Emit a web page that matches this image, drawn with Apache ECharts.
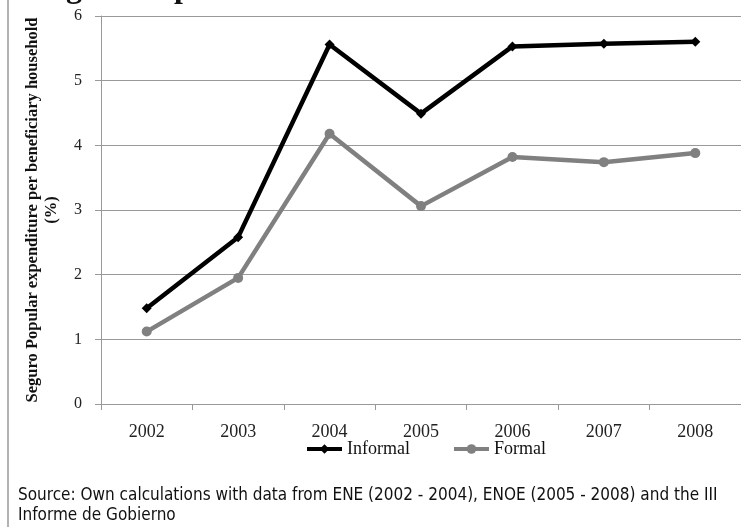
<!DOCTYPE html>
<html>
<head>
<meta charset="utf-8">
<script src="https://cdn.jsdelivr.net/npm/echarts@6/dist/echarts.min.js"></script>
<style>
  html, body { margin: 0; padding: 0; background: #fff; }
  #chart { width: 741px; height: 527px; }
</style>
</head>
<body>
<div id="chart"></div>
<script>
  // data
  const years = ['2002', '2003', '2004', '2005', '2006', '2007', '2008'];
  const informal = [1.48, 2.58, 5.56, 4.49, 5.53, 5.57, 5.60];
  const formal = [1.12, 1.95, 4.18, 3.06, 3.82, 3.74, 3.88];
  const yTicks = [0, 1, 2, 3, 4, 5, 6];

  const serif = '"Liberation Serif", "DejaVu Serif", serif';
  const narrow = '"DejaVu Sans Condensed", sans-serif';

  let myChart = echarts.init(document.getElementById('chart'));
  myChart.setOption({
    animation: false,
    backgroundColor: '#fff',
    grid: {
      left: 101,
      right: -2,
      top: 16,
      bottom: 123
    },
    legend: {
      top: 435,
      left: 300,
      itemWidth: 35,
      itemHeight: 12,
      itemGap: 42,
      lineStyle: { width: 4 },
      textStyle: { fontFamily: serif, fontSize: 18, color: '#111' },
      data: ['Informal', 'Formal']
    },
    graphic: [
      // cut-off title, only its descenders show
      { type: 'text', left: 66, top: -27, style: { text: 'g', font: 'bold 32px ' + serif, fill: '#111' } },
      { type: 'text', left: 174, top: -27, style: { text: 'p', font: 'bold 32px ' + serif, fill: '#111' } },
      // left border
      { type: 'line', shape: { x1: 8, y1: 0, x2: 8, y2: 527 }, style: { stroke: '#999', lineWidth: 1.5 } },
      {
        type: 'text', left: 18, top: 486,
        style: {
          text: 'Source: Own calculations with data from ENE (2002 - 2004), ENOE (2005 - 2008) and the III\nInforme de Gobierno',
          font: '17px ' + narrow, fill: '#111', lineHeight: 20
        }
      }
    ],
    xAxis: {
      type: 'category',
      data: years,
      boundaryGap: true,
      axisLine: { lineStyle: { color: '#999', width: 1 } },
      axisTick: { show: true, length: 6, lineStyle: { color: '#999' } },
      axisLabel: { fontFamily: serif, fontSize: 18, color: '#222', margin: 19 }
    },
    yAxis: {
      type: 'value',
      min: 0,
      max: 6,
      interval: 1,
      name: 'Seguro Popular expenditure per beneficiary household\n(%)',
      nameLocation: 'middle',
      nameGap: 40,
      nameRotate: 90,
      nameTextStyle: { fontFamily: serif, fontSize: 16.5, fontWeight: 'bold', color: '#111', lineHeight: 19 },
      axisLine: { show: true, lineStyle: { color: '#999', width: 1 } },
      axisTick: { show: true, length: 6, lineStyle: { color: '#999' } },
      axisLabel: {
        fontFamily: serif, fontSize: 16, color: '#222', margin: 19,
        formatter: v => yTicks.indexOf(v) >= 0 ? String(v) : ''
      },
      splitLine: { show: true, lineStyle: { color: '#999', width: 1 } }
    },
    series: [
      {
        name: 'Informal',
        type: 'line',
        data: informal,
        color: '#000',
        lineStyle: { width: 4.5 },
        symbol: 'diamond',
        symbolSize: 10,
        itemStyle: { color: '#000' }
      },
      {
        name: 'Formal',
        type: 'line',
        data: formal,
        color: '#808080',
        lineStyle: { width: 4.5 },
        symbol: 'circle',
        symbolSize: 10,
        itemStyle: { color: '#808080' }
      }
    ]
  });
</script>
</body>
</html>
